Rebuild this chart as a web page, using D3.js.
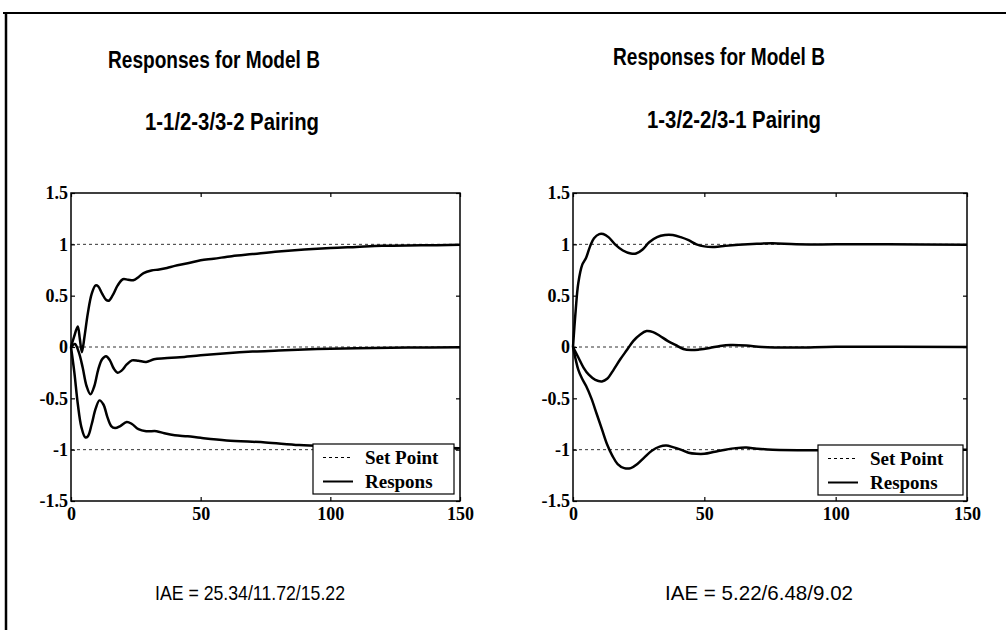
<!DOCTYPE html>
<html>
<head>
<meta charset="utf-8">
<script src="https://cdn.jsdelivr.net/npm/d3@7"></script>
<style>
  body { margin: 0; background: #fff; }
  svg { display: block; }
  .tick text { font-family: "Liberation Serif", "Times New Roman", serif; font-weight: bold; font-size: 18px; fill: #000; }
  .tick line { stroke: #000; stroke-width: 1.2; }
</style>
</head>
<body>
<div id="vis-container"></div>
<script>
// sizes
const w = 1006, h = 630;

// tick values / labels
const xTicks = [0, 50, 100, 150];
const yTicks = [-1.5, -1, -0.5, 0, 0.5, 1, 1.5];
const setPoints = [1, 0, -1];

// titles and IAE text
const titles = ["Responses for Model B", "Responses for Model B"];
const pairings = ["1-1/2-3/3-2 Pairing", "1-3/2-2/3-1 Pairing"];
const iaeTexts = ["IAE = 25.34/11.72/15.22", "IAE = 5.22/6.48/9.02"];
const legendLabels = ["Set Point", "Respons"];

// responses, left plot (1-1/2-3/3-2), [time, value]
const leftLoop1 = [[0,0],[1.2,0.1],[2.6,0.2],[3.4,0.08],[4.2,-0.05],[5.2,0.1],[6.5,0.33],[8,0.52],[9.5,0.6],[10.5,0.59],[12,0.52],[13.5,0.46],[14.5,0.45],[16,0.5],[18,0.6],[20,0.66],[22,0.655],[24,0.65],[26,0.68],[28,0.72],[31,0.745],[34,0.755],[37,0.77],[40,0.79],[45,0.815],[50,0.845],[55,0.86],[62,0.885],[70,0.905],[80,0.93],[90,0.95],[100,0.965],[110,0.975],[120,0.985],[135,0.99],[150,0.995]];
const leftLoop2 = [[0,0],[1.5,0.03],[3,-0.05],[4.5,-0.2],[6,-0.38],[7.5,-0.46],[9,-0.38],[10.5,-0.22],[12,-0.12],[13.5,-0.09],[15,-0.13],[16.5,-0.21],[18,-0.25],[19.5,-0.23],[21.5,-0.17],[23.5,-0.13],[26,-0.135],[29,-0.145],[32,-0.12],[36,-0.11],[42,-0.1],[50,-0.08],[60,-0.06],[70,-0.045],[80,-0.035],[95,-0.02],[110,-0.012],[130,-0.006],[150,-0.003]];
const leftLoop3 = [[0,0],[1.3,-0.25],[2.6,-0.55],[4,-0.78],[5.5,-0.88],[6.5,-0.87],[8,-0.75],[9.5,-0.6],[11,-0.52],[12.5,-0.56],[14,-0.68],[15.5,-0.77],[17,-0.79],[19,-0.77],[21.5,-0.73],[23.5,-0.75],[26,-0.8],[29,-0.82],[33,-0.82],[36,-0.84],[40,-0.86],[45,-0.87],[50,-0.885],[60,-0.91],[75,-0.93],[88,-0.955],[100,-0.965],[120,-0.975],[150,-0.985]];

// responses, right plot (1-3/2-2/3-1)
const rightLoop1 = [[0,0],[1,0.35],[2,0.62],[3.5,0.8],[5,0.87],[6.5,0.98],[8,1.06],[10,1.1],[11.5,1.1],[13.5,1.07],[16,1.0],[19,0.94],[22,0.91],[24,0.91],[26.5,0.95],[29,1.02],[32,1.07],[35,1.09],[38,1.09],[41,1.07],[44,1.04],[47,1.0],[50,0.98],[54,0.975],[58,0.985],[63,0.995],[70,1.005],[76,1.01],[85,1.0],[100,1.0],[120,1.0],[150,0.995]];
const rightLoop2 = [[0,0],[2,-0.1],[4,-0.2],[6,-0.27],[8.5,-0.32],[11,-0.335],[13,-0.31],[15.5,-0.22],[18,-0.12],[20.5,-0.03],[23,0.06],[25.5,0.12],[28,0.155],[30.5,0.145],[33,0.11],[36,0.06],[39,0.02],[42,-0.02],[45,-0.03],[48,-0.025],[52,-0.01],[56,0.01],[60,0.02],[66,0.015],[72,0.0],[85,-0.005],[100,0.002],[150,0]];
const rightLoop3 = [[0,0],[1,-0.12],[2,-0.22],[3.3,-0.3],[5,-0.38],[7,-0.5],[9,-0.65],[11,-0.8],[13,-0.95],[15,-1.06],[17,-1.14],[19.5,-1.18],[22,-1.18],[24.5,-1.14],[27,-1.08],[30,-1.01],[33,-0.97],[35.5,-0.96],[38,-0.975],[41,-1.0],[44,-1.03],[47,-1.04],[50,-1.04],[54,-1.02],[58,-1.0],[62,-0.985],[66,-0.98],[70,-0.99],[76,-1.0],[90,-1.005],[110,-1.0],[150,-1.0]];

const panels = [
  { x0: 71, x1: 460, y0: 193, y1: 501, curves: [leftLoop1, leftLoop2, leftLoop3],
    titleX: 108, titleY: 68, pairX: 145, pairY: 130, iaeX: 155, iaeY: 600, iaeW: 190,
    legend: { x: 313, y: 444, w: 141, h: 50 } },
  { x0: 573, x1: 967, y0: 193, y1: 501, curves: [rightLoop1, rightLoop2, rightLoop3],
    titleX: 613, titleY: 65, pairX: 647, pairY: 128, iaeX: 665, iaeY: 600, iaeW: 188,
    legend: { x: 818, y: 445, w: 145, h: 50 } }
];

const svg = d3.select("#vis-container").append("svg")
  .attr("width", w).attr("height", h);

// outer frame (top and left edges only are visible)
svg.append("line").attr("x1", 3).attr("x2", w).attr("y1", 13).attr("y2", 13)
  .attr("stroke", "#000").attr("stroke-width", 2);
svg.append("line").attr("x1", 6).attr("x2", 6).attr("y1", 13).attr("y2", h)
  .attr("stroke", "#000").attr("stroke-width", 2.5);

const fmt = d => String(d);

panels.forEach(function (p, i) {
  const xScale = d3.scaleLinear().domain([0, 150]).range([p.x0, p.x1]);
  const yScale = d3.scaleLinear().domain([-1.5, 1.5]).range([p.y1, p.y0]);
  const g = svg.append("g");

  // titles
  g.append("text").attr("x", p.titleX).attr("y", p.titleY)
    .attr("textLength", 212).attr("lengthAdjust", "spacingAndGlyphs")
    .style("font-family", "Liberation Sans, Arial, sans-serif").style("font-weight", "bold")
    .style("font-size", "23px").text(titles[i]);
  g.append("text").attr("x", p.pairX).attr("y", p.pairY)
    .attr("textLength", 174).attr("lengthAdjust", "spacingAndGlyphs")
    .style("font-family", "Liberation Sans, Arial, sans-serif").style("font-weight", "bold")
    .style("font-size", "23px").text(pairings[i]);

  // set point lines
  g.selectAll(".sp").data(setPoints).enter().append("line")
    .attr("x1", p.x0).attr("x2", p.x1)
    .attr("y1", d => yScale(d)).attr("y2", d => yScale(d))
    .attr("stroke", "#333").attr("stroke-width", 1).attr("stroke-dasharray", "3,3");

  // responses
  const line = d3.line().x(d => xScale(d[0])).y(d => yScale(d[1])).curve(d3.curveCatmullRom.alpha(0.5));
  g.selectAll(".resp").data(p.curves).enter().append("path")
    .attr("d", line).attr("fill", "none").attr("stroke", "#000").attr("stroke-width", 2.5);

  // axes (inward ticks, MATLAB style)
  g.append("g").attr("transform", "translate(" + p.x0 + ",0)")
    .call(d3.axisLeft(yScale).tickValues(yTicks).tickSizeInner(-4).tickSizeOuter(0).tickPadding(3).tickFormat(fmt))
    .call(a => a.select(".domain").remove());
  g.append("g").attr("transform", "translate(" + p.x1 + ",0)")
    .call(d3.axisRight(yScale).tickValues(yTicks).tickSizeInner(-4).tickSizeOuter(0).tickFormat(""))
    .call(a => a.select(".domain").remove());
  g.append("g").attr("transform", "translate(0," + p.y1 + ")")
    .call(d3.axisBottom(xScale).tickValues(xTicks).tickSizeInner(-4).tickSizeOuter(0).tickPadding(6).tickFormat(fmt))
    .call(a => a.select(".domain").remove());
  g.append("g").attr("transform", "translate(0," + p.y0 + ")")
    .call(d3.axisTop(xScale).tickValues(xTicks).tickSizeInner(-4).tickSizeOuter(0).tickFormat(""))
    .call(a => a.select(".domain").remove());

  // box
  g.append("rect").attr("x", p.x0).attr("y", p.y0)
    .attr("width", p.x1 - p.x0).attr("height", p.y1 - p.y0)
    .attr("fill", "none").attr("stroke", "#000").attr("stroke-width", 1.5);

  // legend
  const L = p.legend;
  const lg = g.append("g").attr("transform", "translate(" + L.x + "," + L.y + ")");
  lg.append("rect").attr("width", L.w).attr("height", L.h)
    .attr("fill", "#fff").attr("stroke", "#000").attr("stroke-width", 1.2);
  legendLabels.forEach(function (lab, j) {
    const yy = 13.5 + j * 24;
    lg.append("line").attr("x1", 10).attr("x2", 40).attr("y1", yy).attr("y2", yy)
      .attr("stroke", "#000").attr("stroke-width", j === 0 ? 1 : 2)
      .attr("stroke-dasharray", j === 0 ? "3,3" : null);
    lg.append("text").attr("x", 52).attr("y", yy + 6)
      .style("font-family", "Liberation Serif, Times New Roman, serif").style("font-weight", "bold")
      .style("font-size", "19px").text(lab);
  });

  // IAE
  g.append("text").attr("x", p.iaeX).attr("y", p.iaeY)
    .attr("textLength", p.iaeW).attr("lengthAdjust", "spacingAndGlyphs")
    .style("font-family", "Liberation Sans, Arial, sans-serif")
    .style("font-size", "21px").text(iaeTexts[i]);
});
</script>
</body>
</html>
